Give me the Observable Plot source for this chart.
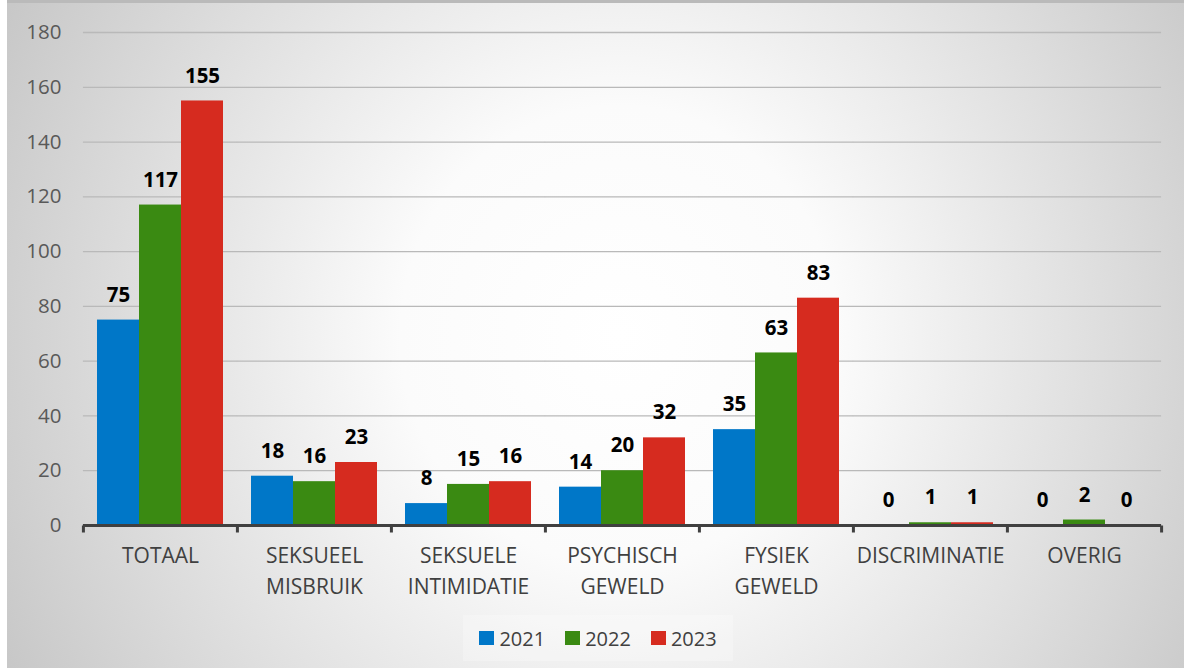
<!DOCTYPE html>
<html>
<head>
<meta charset="utf-8">
<script src="https://cdn.jsdelivr.net/npm/d3@7"></script>
<script src="https://cdn.jsdelivr.net/npm/@observablehq/plot@0.6"></script>
<style>
  html, body { margin: 0; padding: 0; background: #ffffff; }
  body { width: 1184px; height: 672px; position: relative; overflow: hidden; font-family: "Open Sans", sans-serif; }
  #bg {
    position: absolute; left: 7px; top: 0; width: 1177px; height: 668px;
    box-sizing: border-box; border-top: 3px solid #bababa;
    background: radial-gradient(ellipse 62% 115% at 52% 50%, #ffffff 0%, #fbfbfb 30%, #c3c3c3 100%);
  }
  #plot { position: absolute; left: 0; top: 0; }
  #legend {
    position: absolute; left: 463px; top: 615px; width: 270px; height: 46px;
    display: flex; align-items: center; justify-content: center; gap: 20px;
    background: rgba(255,255,255,0.25);
    font-size: 20px; color: #404040;
  }
  .item { display: flex; align-items: center; gap: 5px; }
  .sw { width: 15px; height: 14px; display: inline-block; }
</style>
</head>
<body>
<div id="bg"></div>
<div id="plot"></div>
<div id="legend"></div>
<script>
const categories = ["TOTAAL", "SEKSUEEL MISBRUIK", "SEKSUELE INTIMIDATIE", "PSYCHISCH GEWELD", "FYSIEK GEWELD", "DISCRIMINATIE", "OVERIG"];
const years = ["2021", "2022", "2023"];
const v2021 = [75, 18, 8, 14, 35, 0, 0];
const v2022 = [117, 16, 15, 20, 63, 1, 2];
const v2023 = [155, 23, 16, 32, 83, 1, 0];
const colors = ["#0077c8", "#3a8a12", "#d62b1f"];
const yTicks = [0, 20, 40, 60, 80, 100, 120, 140, 160, 180];

const seriesValues = [v2021, v2022, v2023];
const data = [];
categories.forEach((c, i) => {
  years.forEach((y, j) => data.push({category: c, year: y, value: seriesValues[j][i]}));
});

const W = 1184, H = 610;
const mL = 83, mR = 23, mT = 32, mB = 85;
const padInner = 0.17, padOuter = 0.085;
const step = (W - mL - mR) / (categories.length - padInner + 2 * padOuter);
const halfGap = step * padInner / 2;
const outerGap = step * padOuter;

const tickSymbol = {draw(ctx) { ctx.moveTo(0, 0); ctx.lineTo(0, 7); }};

const chart = Plot.plot({
  width: W, height: H,
  marginLeft: mL, marginRight: mR, marginTop: mT, marginBottom: mB,
  style: {fontFamily: "'Open Sans', sans-serif", fontSize: "20px", background: "transparent", overflow: "visible"},
  fx: {domain: categories, paddingInner: padInner, paddingOuter: padOuter},
  x: {domain: years, padding: 0, axis: null},
  y: {domain: [0, 180], axis: null},
  color: {domain: years, range: colors},
  marks: [
    Plot.ruleY(yTicks.filter(t => t > 0), {stroke: "#b9b9b9", strokeWidth: 1.3, insetLeft: -halfGap, insetRight: -halfGap}),
    Plot.text(yTicks, {fx: () => categories[0], y: d => d, text: d => String(d), frameAnchor: "left", textAnchor: "end", dx: -(outerGap + 22), fontSize: 20.5, fill: "#595959"}),
    Plot.barY(data, {fx: "category", x: "year", y: "value", fill: "year", inset: 0}),
    Plot.ruleY([0], {stroke: "#404040", strokeWidth: 3, insetLeft: -halfGap, insetRight: -halfGap}),
    Plot.dot(categories, {fx: d => d, frameAnchor: "bottom-left", dx: -halfGap, symbol: tickSymbol, stroke: "#404040", strokeWidth: 3, fill: "none"}),
    Plot.dot(categories.slice(-1), {fx: d => d, frameAnchor: "bottom-right", dx: halfGap, symbol: tickSymbol, stroke: "#404040", strokeWidth: 3, fill: "none"}),
    Plot.text(data, {fx: "category", x: "year", y: "value", text: d => String(d.value), dy: -25, lineAnchor: "middle", fontWeight: "bold", fontSize: 20.5, fill: "#000000"}),
    Plot.axisFx({anchor: "bottom", tickSize: 0, tickPadding: 16, fontSize: 21, lineHeight: 1.45, fill: "#404040", label: null, tickFormat: d => d.replace(" ", "\n")})
  ]
});
document.getElementById("plot").appendChild(chart);

const legend = document.getElementById("legend");
years.forEach((y, i) => {
  const item = document.createElement("div");
  item.className = "item";
  const sw = document.createElement("span");
  sw.className = "sw";
  sw.style.background = colors[i];
  const t = document.createElement("span");
  t.textContent = y;
  item.appendChild(sw);
  item.appendChild(t);
  legend.appendChild(item);
});
</script>
</body>
</html>
